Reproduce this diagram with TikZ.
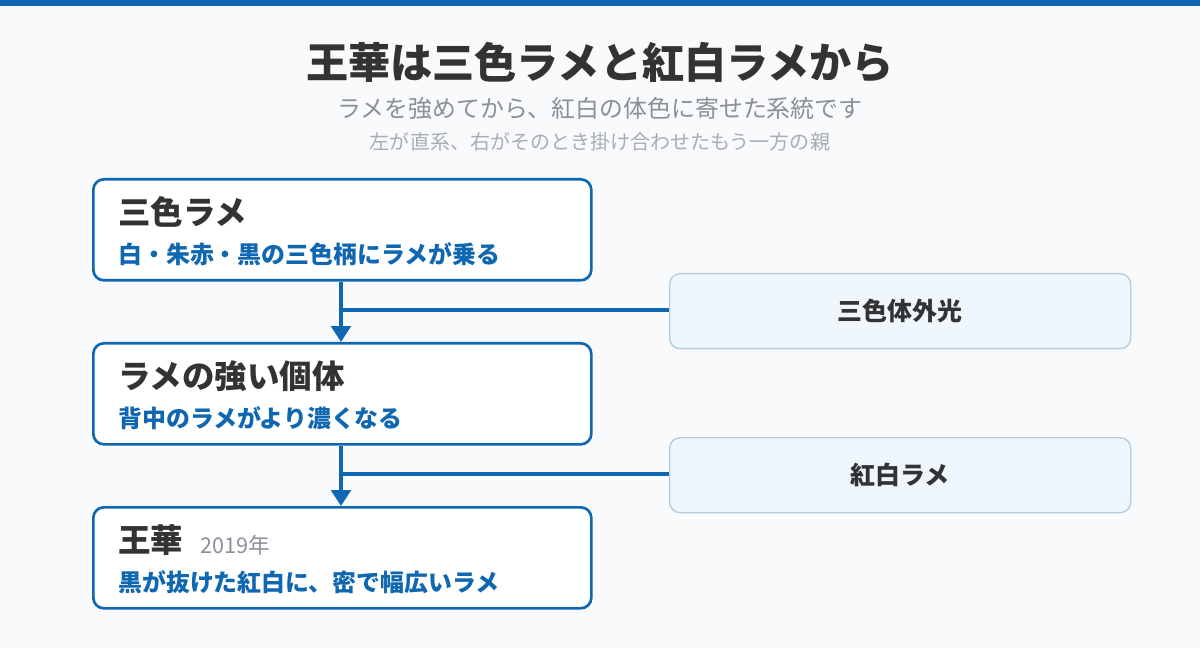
\documentclass[tikz,border=0pt]{standalone}
\usepackage{fontspec}
\setmainfont{Noto Sans CJK JP}
\usetikzlibrary{positioning,arrows.meta}
\definecolor{barblue}{HTML}{0F67B1}
\definecolor{pagebg}{HTML}{F9FAFB}
\definecolor{textdark}{HTML}{333333}
\definecolor{textgray}{HTML}{8A8F99}
\definecolor{textlight}{HTML}{A8ADB5}
\definecolor{sidefill}{HTML}{EFF7FD}
\definecolor{sideline}{HTML}{B5CCDD}
\tikzset{
  stage/.style={draw=barblue, line width=1.5pt, fill=white, rounded corners=6pt,
    minimum width=498*0.02cm, minimum height=101*0.02cm, anchor=north west, inner sep=0pt},
  parent/.style={draw=sideline, line width=0.8pt, fill=sidefill, rounded corners=6pt,
    minimum width=461*0.02cm, minimum height=75*0.02cm, anchor=north west,
    font=\bfseries\fontsize{14.2pt}{16pt}\selectfont, text=textdark},
  head/.style={anchor=west, font=\bfseries\fontsize{18.5pt}{21pt}\selectfont, text=textdark, inner sep=0pt},
  note/.style={anchor=west, font=\bfseries\fontsize{13.6pt}{15pt}\selectfont, text=barblue, inner sep=0pt},
  link/.style={draw=barblue, line width=2.1pt},
  flow/.style={link, -{Triangle[length=9pt,width=11pt]}}
}
\begin{document}
\begin{tikzpicture}[x=0.02cm,y=-0.02cm]
  \fill[pagebg] (0,0) rectangle (1200,648);
  \fill[barblue] (0,0) rectangle (1200,6);
  % heading
  \node[font=\bfseries\fontsize{24pt}{27pt}\selectfont, text=textdark] (title) at (600,62) {王華は三色ラメと紅白ラメから};
  \node[font=\fontsize{13.6pt}{15pt}\selectfont, text=textgray] (sub) at (600,108) {ラメを強めてから、紅白の体色に寄せた系統です};
  \node[font=\fontsize{11.4pt}{13pt}\selectfont, text=textlight] (subsub) at (600,142) {左が直系、右がそのとき掛け合わせたもう一方の親};

  % stages
  \node[stage] (s1) at (92,178) {};
  \node[head] (s1h) at (118,212) {三色ラメ};
  \node[note] (s1n) at (118,254) {白・朱赤・黒の三色柄にラメが乗る};

  \node[stage] (s2) at (92,342) {};
  \node[head] (s2h) at (118,376) {ラメの強い個体};
  \node[note] (s2n) at (118,418) {背中のラメがより濃くなる};

  \node[stage] (s3) at (92,506) {};
  \node[head] (s3h) at (118,540) {王華};
  \node[anchor=west, inner sep=0pt, font=\fontsize{12.3pt}{14pt}\selectfont, text=textgray] (s3y) at (200,545) {2019年};
  \node[note] (s3n) at (118,582) {黒が抜けた紅白に、密で幅広いラメ};

  % other parents
  \node[parent] (p1) at (669,273) {三色体外光};
  \node[parent] (p2) at (669,437) {紅白ラメ};

  % connectors
  \coordinate (j1) at (341,310);
  \coordinate (j2) at (341,474);
  \draw[flow] (s1.south -| j1) -- (s2.north -| j1);
  \draw[flow] (s2.south -| j2) -- (s3.north -| j2);
  \draw[link] (j1) -- (p1.west |- j1);
  \draw[link] (j2) -- (p2.west |- j2);
\end{tikzpicture}
\end{document}
